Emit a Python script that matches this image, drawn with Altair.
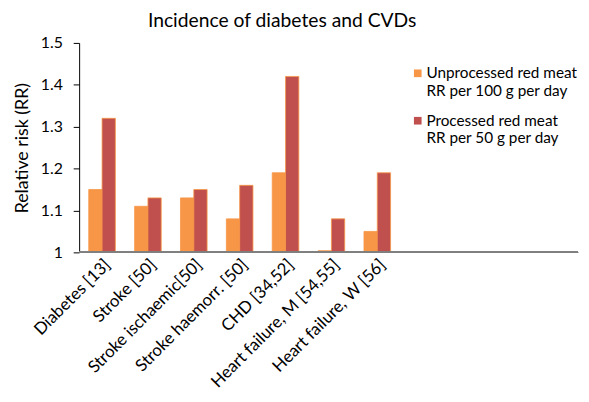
import altair as alt
import pandas as pd

categories = ["Diabetes [13]", "Stroke [50]", "Stroke ischaemic[50]", "Stroke haemorr. [50]",
              "CHD [34,52]", "Heart failure, M [54,55]", "Heart failure, W [56]"]
unprocessed = [1.15, 1.11, 1.13, 1.08, 1.19, 1.004, 1.05]
processed = [1.32, 1.13, 1.15, 1.16, 1.42, 1.08, 1.19]
series = ["Unprocessed red meat|RR per 100 g per day", "Processed red meat|RR per 50 g per day"]
colors = ["#F79646", "#C0504D"]
y_ticks = [1, 1.1, 1.2, 1.3, 1.4, 1.5]

rows = []
for c, u, p in zip(categories, unprocessed, processed):
    rows.append({"cat": c, "series": series[0], "rr": u, "order": 0})
    rows.append({"cat": c, "series": series[1], "rr": p, "order": 1})
df = pd.DataFrame(rows)

W, H = 505, 212
FONT = "Lato"

bars = alt.Chart(df).mark_bar(stroke="#F79646", strokeWidth=1, strokeOpacity=0.8).encode(
    x=alt.X("cat:N", sort=categories,
            scale=alt.Scale(range=[0, 325], paddingInner=0.42, paddingOuter=0.21),
            axis=alt.Axis(title=None, labelAngle=-45, labelAlign="right", labelBaseline="top",
                          labelFontSize=17, labelColor="black", ticks=False, domain=False,
                          labelPadding=4, labelFont=FONT, labelLimit=0)),
    xOffset=alt.XOffset("series:N", sort=series, scale=alt.Scale(paddingInner=0)),
    y=alt.Y("rr:Q", scale=alt.Scale(domain=[1, 1.5], zero=False),
            axis=alt.Axis(title="Relative risk (RR)", values=y_ticks, format=".1~f",
                          grid=False, labelFontSize=16, labelColor="black", labelFont=FONT,
                          titleFont=FONT, titleFontSize=18, titleFontWeight="normal",
                          titleColor="black", titlePadding=9, tickSize=6, labelPadding=11,
                          tickColor="black", domainColor="black", tickWidth=1, domainWidth=1)),
    y2=alt.datum(1),
    color=alt.Color("series:N", sort=series, scale=alt.Scale(domain=series, range=colors),
                    legend=alt.Legend(title=None, orient="none", legendX=335, legendY=23,
                                      labelExpr="split(datum.label, '|')",
                                      labelFontSize=15.5, labelFont=FONT, labelColor="black",
                                      labelLimit=0, symbolType="square", symbolSize=60,
                                      symbolStrokeWidth=0, rowPadding=14, padding=0,
                                      labelOffset=1)),
)

baseline = alt.Chart(df).mark_rule(color="#7f7f7f", strokeWidth=1.5).encode(
    y=alt.datum(1), x=alt.value(0), x2=alt.value(W)
)

chart = alt.layer(bars, baseline).properties(
    width=W, height=H,
    title=alt.Title("Incidence of diabetes and CVDs", anchor="middle", frame="group", dx=-47,
                    fontSize=19.5, fontWeight="normal", font=FONT, color="black", offset=4),
    autosize=alt.AutoSizeParams(type="none"),
    padding={"left": 72, "top": 33, "right": 3, "bottom": 140},
).configure_view(stroke=None)

chart.save("out.html", embed_options={"renderer": "svg", "actions": False})
